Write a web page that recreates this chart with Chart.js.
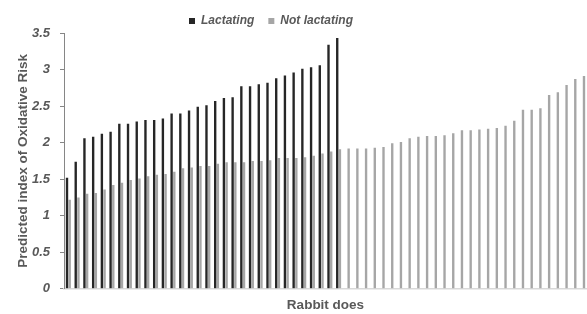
<!DOCTYPE html>
<html>
<head>
<meta charset="utf-8">
<script src="https://cdn.jsdelivr.net/npm/chart.js@4"></script>
<style>
  html, body { margin: 0; padding: 0; background: #fff; }
  #wrap { width: 587px; height: 314px; }
</style>
</head>
<body>
<div id="wrap"><canvas id="chart"></canvas></div>
<script>
const CHART = document.getElementById("chart").getContext("2d");

// predicted index of oxidative risk, sorted within each group
let lactating = [1.52, 1.74, 2.06, 2.08, 2.12, 2.15, 2.26, 2.26, 2.29, 2.31,
    2.31, 2.33, 2.40, 2.40, 2.44, 2.49, 2.51, 2.57, 2.61, 2.62,
    2.77, 2.77, 2.80, 2.82, 2.88, 2.92, 2.96, 3.01, 3.03, 3.06,
    3.34, 3.43];
let notLactating = [1.22, 1.25, 1.30, 1.31, 1.36, 1.42, 1.45, 1.49, 1.51, 1.54,
    1.56, 1.57, 1.60, 1.65, 1.66, 1.68, 1.68, 1.71, 1.73, 1.73,
    1.73, 1.75, 1.75, 1.76, 1.79, 1.79, 1.79, 1.80, 1.82, 1.85,
    1.88, 1.91, 1.92, 1.92, 1.92, 1.93, 1.94, 1.99, 2.01, 2.06,
    2.08, 2.09, 2.09, 2.10, 2.13, 2.17, 2.17, 2.18, 2.19, 2.20,
    2.23, 2.30, 2.45, 2.45, 2.47, 2.65, 2.69, 2.79, 2.87, 2.91];
let yTicks = [0, 0.5, 1, 1.5, 2, 2.5, 3, 3.5];

let labelsDoes = notLactating.map(function (v, i) { return String(i + 1); });

const TEXT = "#595959";
const FONT = "'Liberation Sans', Arial, sans-serif";

// legend sits left of centre and higher in the original figure;
// the box is made taller again so the text is not clipped
const legendShift = {
    id: "legendShift",
    afterLayout(chart) {
        chart.legend.left -= 30;
        chart.legend.right -= 30;
        chart.legend.top -= 12;
        chart.legend.bottom = chart.legend.top + 45;
    }
};

let barChart = new Chart(CHART, {
    type: "bar",
    data: {
        labels: labelsDoes,
        datasets: [
            {
                label: "Lactating",
                backgroundColor: "#262626",
                data: lactating,
            },
            {
                label: "Not lactating",
                backgroundColor: "#a6a6a6",
                data: notLactating,
            }
        ],
    },
    plugins: [legendShift],
    options: {
        animation: false,
        responsive: true,
        maintainAspectRatio: false,
        categoryPercentage: 0.62,
        barPercentage: 0.88,
        layout: { padding: { left: 15, right: 0, top: 13, bottom: 1 } },
        plugins: {
            tooltip: { enabled: false },
            legend: {
                position: "top",
                maxHeight: 20,
                labels: {
                    boxWidth: 6,
                    boxHeight: 6,
                    padding: 14,
                    color: TEXT,
                    font: { family: FONT, size: 12, weight: "bold", style: "italic" },
                },
            },
        },
        scales: {
            x: {
                grid: { display: false, drawTicks: false },
                border: { display: true, color: "#d9d9d9", width: 1.5 },
                ticks: { display: false },
                title: {
                    display: true,
                    text: "Rabbit does",
                    color: TEXT,
                    padding: { top: 8, bottom: 0 },
                    font: { family: FONT, size: 13.5, weight: "bold" },
                },
            },
            y: {
                min: 0,
                max: 3.5,
                afterBuildTicks: function (axis) {
                    axis.ticks = yTicks.map(function (v) { return { value: v }; });
                },
                afterFit: function (axis) {
                    axis.width = 49;
                },
                grid: { drawOnChartArea: false, tickLength: 4, color: "#868686" },
                border: { color: "#868686" },
                ticks: {
                    color: TEXT,
                    padding: 10,
                    callback: function (value) { return String(value); },
                    font: { family: FONT, size: 13, weight: "bold", style: "italic" },
                },
                title: {
                    display: true,
                    text: "Predicted index of Oxidative Risk",
                    color: TEXT,
                    padding: { top: 0, bottom: 0 },
                    font: { family: FONT, size: 13.5, weight: "bold" },
                },
            },
        },
    },
});
</script>
</body>
</html>
